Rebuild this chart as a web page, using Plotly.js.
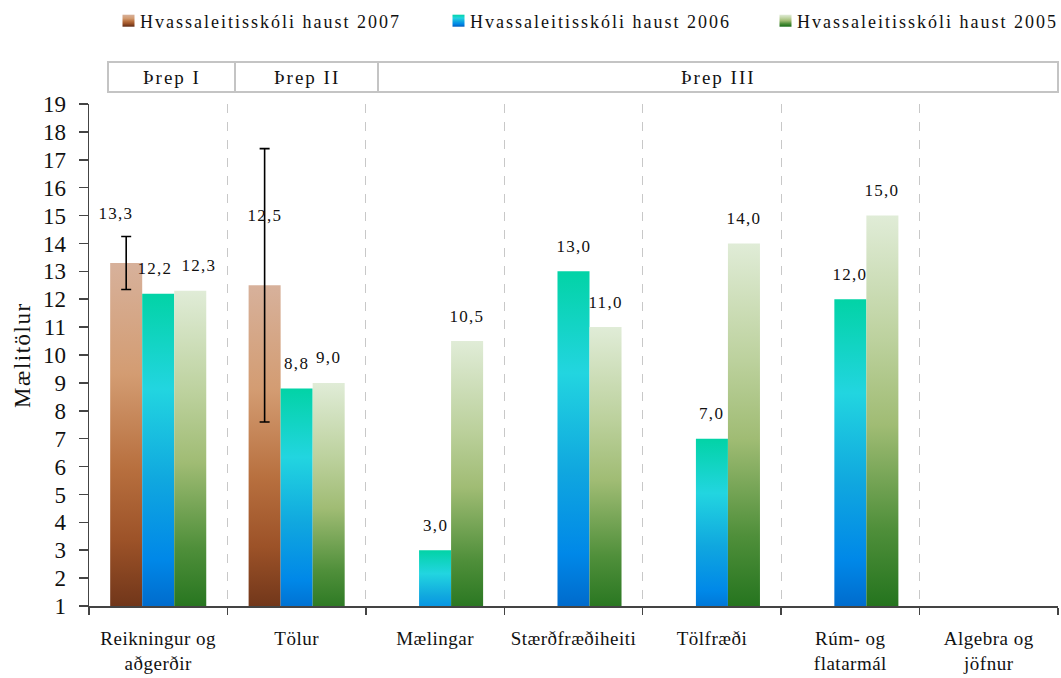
<!DOCTYPE html>
<html>
<head>
<meta charset="utf-8">
<script src="https://cdn.plot.ly/plotly-3.0.1.min.js"></script>
<style>
  html, body { margin: 0; padding: 0; background: #fff; }
  #chart { width: 1061px; height: 678px; }
  .legendtext { letter-spacing: 2px; }
</style>
</head>
<body>
<svg width="0" height="0" style="position:absolute">
  <defs>
    <linearGradient id="grad0" x1="0" y1="0" x2="0" y2="1">
      <stop offset="0" stop-color="#D7B19B"/>
      <stop offset="0.3" stop-color="#D39C72"/>
      <stop offset="0.55" stop-color="#B8703F"/>
      <stop offset="0.75" stop-color="#9C5228"/>
      <stop offset="1" stop-color="#5E2A14"/>
    </linearGradient>
    <linearGradient id="grad1" x1="0" y1="0" x2="0" y2="1">
      <stop offset="0" stop-color="#02D3A6"/>
      <stop offset="0.28" stop-color="#22D5E0"/>
      <stop offset="0.55" stop-color="#10A7DF"/>
      <stop offset="0.78" stop-color="#0088E8"/>
      <stop offset="1" stop-color="#005BBD"/>
    </linearGradient>
    <linearGradient id="grad2" x1="0" y1="0" x2="0" y2="1">
      <stop offset="0" stop-color="#E0ECD7"/>
      <stop offset="0.3" stop-color="#BCD19D"/>
      <stop offset="0.5" stop-color="#A0BC74"/>
      <stop offset="0.75" stop-color="#4F8F3A"/>
      <stop offset="1" stop-color="#156A14"/>
    </linearGradient>
  </defs>
</svg>
<div id="chart"></div>
<script>
// ---- data ----
var categories = [
  'Reikningur og<br>aðgerðir',
  'Tölur',
  'Mælingar',
  'Stærðfræðiheiti',
  'Tölfræði',
  'Rúm- og<br>flatarmál',
  'Algebra og<br>jöfnur'
];
var seriesNames = [
  'Hvassaleitisskóli haust 2007',
  'Hvassaleitisskóli haust 2006',
  'Hvassaleitisskóli haust 2005'
];
var values2007 = [13.3, 12.5, null, null, null, null, null];
var values2006 = [12.2, 8.8, 3.0, 13.0, 7.0, 12.0, null];
var values2005 = [12.3, 9.0, 10.5, 11.0, 14.0, 15.0, null];
var errors2007 = [0.95, 4.9, null, null, null, null, null];
var stageLabels = ['Þrep I', 'Þrep II', 'Þrep III'];
var yTickValues = [1,2,3,4,5,6,7,8,9,10,11,12,13,14,15,16,17,18,19];

// ---- styling ----
var FONT = 'Liberation Serif, Times New Roman, serif';
var fallbackColors = ['#C28458', '#14A9E0', '#8DB064'];
var bargap = 0.306;
var allSeries = [values2007, values2006, values2005];
var legendIds = ['legend', 'legend2', 'legend3'];

function fmt(v) { return v.toFixed(1).replace('.', ','); }

var traces = allSeries.map(function (vals, k) {
  var t = {
    type: 'bar',
    name: seriesNames[k],
    x: categories,
    y: vals,
    legend: legendIds[k],
    marker: { color: fallbackColors[k], line: { width: 0 } },
    hoverinfo: 'skip'
  };
  if (k === 0) {
    t.error_y = { type: 'data', array: errors2007, visible: true, color: '#000', thickness: 1.6, width: 5 };
  }
  return t;
});

// data labels (label placement nudges, in px)
var annotations = [];
var barW = (1 - bargap) / 3;
var lift2007 = [49, 70];
var labelNudgeX = { '0-0': -10, '1-0': -3, '2-0': 9 };
allSeries.forEach(function (vals, k) {
  vals.forEach(function (v, i) {
    if (v === null) return;
    annotations.push({
      x: i + (k - 1) * barW,
      y: v,
      xref: 'x', yref: 'y',
      text: fmt(v),
      showarrow: false,
      xanchor: 'center', yanchor: 'middle',
      xshift: labelNudgeX[k + '-' + i] || 0,
      yshift: k === 0 ? lift2007[i] : 25,
      font: { family: FONT, size: 17, color: '#111' }
    });
  });
});

// y title
annotations.push({
  xref: 'paper', yref: 'paper', x: -0.069, y: 0.5,
  text: 'Mælitölur', textangle: -90, showarrow: false,
  xanchor: 'center', yanchor: 'middle',
  font: { family: FONT, size: 23, color: '#111' }
});

// stage header band
var L = 89, W = 969, B = 606, H = 502;
function px(xp) { return (xp - L) / W; }
function py(yp) { return (B - yp) / H; }
var stageEdges = [108, 235, 378, 1058];
var shapes = [];
shapes.push({ type: 'rect', xref: 'paper', yref: 'paper',
  x0: px(stageEdges[0]), x1: px(stageEdges[3]), y0: py(92), y1: py(62),
  line: { color: '#c4c4c4', width: 2 }, fillcolor: 'rgba(0,0,0,0)' });
for (var s = 1; s < stageEdges.length - 1; s++) {
  shapes.push({ type: 'line', xref: 'paper', yref: 'paper',
    x0: px(stageEdges[s]), x1: px(stageEdges[s]), y0: py(92), y1: py(62),
    line: { color: '#c4c4c4', width: 2 } });
}
stageLabels.forEach(function (lab, s) {
  annotations.push({
    xref: 'paper', yref: 'paper',
    x: px((stageEdges[s] + stageEdges[s + 1]) / 2), y: py(77),
    text: lab, showarrow: false, xanchor: 'center', yanchor: 'middle',
    font: { family: FONT, size: 19, color: '#111' }
  });
});

var legendTextStarts = [140, 470, 797];
function legendCfg(k) {
  return {
    orientation: 'h', x: px(legendTextStarts[k] - 40), xanchor: 'left',
    y: py(21), yanchor: 'middle',
    font: { family: FONT, size: 18, color: '#111' },
    bgcolor: 'rgba(0,0,0,0)', borderwidth: 0
  };
}

var layout = {
  width: 1061, height: 678,
  margin: { l: 89, r: 3, t: 104, b: 72 },
  paper_bgcolor: '#fff', plot_bgcolor: '#fff',
  barmode: 'group', bargap: bargap, bargroupgap: 0,
  showlegend: true,
  legend: legendCfg(0),
  legend2: legendCfg(1),
  legend3: legendCfg(2),
  xaxis: {
    type: 'category', tickson: 'boundaries',
    showline: true, linecolor: '#444', linewidth: 1.5,
    ticks: 'outside', ticklen: 7, tickcolor: '#444', tickwidth: 1.5,
    showgrid: true, gridcolor: '#c8c8c8', griddash: 'dash', gridwidth: 1.2,
    tickfont: { family: FONT, size: 19, color: '#111' },
    ticklabelstandoff: 15,
    zeroline: false, fixedrange: true
  },
  yaxis: {
    range: [1, 19], tickmode: 'array', tickvals: yTickValues,
    ticktext: yTickValues.map(String),
    showline: true, linecolor: '#444', linewidth: 1.5,
    ticks: 'outside', ticklen: 9, tickcolor: '#444', tickwidth: 1.5,
    showgrid: false, zeroline: false, ticklabelstandoff: 8,
    tickfont: { family: FONT, size: 23, color: '#111' },
    fixedrange: true
  },
  annotations: annotations,
  shapes: shapes
};

function decorate(gd) {
  var barTraces = gd.querySelectorAll('.barlayer .trace.bars');
  barTraces.forEach(function (tr, k) {
    tr.querySelectorAll('.point path').forEach(function (p) {
      p.style.fill = 'url(#grad' + k + ')';
      p.style.fillOpacity = 1;
    });
  });
  legendIds.forEach(function (id, k) {
    gd.querySelectorAll('g.' + id + ' .legendpoints path').forEach(function (p) {
      p.style.fill = 'url(#grad' + k + ')';
      p.setAttribute('d', 'M6,6H-6V-6H6Z');
      p.setAttribute('transform', 'translate(28.5,0)');
    });
  });
  gd.querySelectorAll('text').forEach(function (t) {
    var txt = t.textContent;
    if (seriesNames.indexOf(txt) >= 0) {
      t.style.setProperty('letter-spacing', '2px', 'important');
      var el = t.parentNode;
      while (el && el !== gd) {
        if (el.removeAttribute) el.removeAttribute('clip-path');
        el = el.parentNode;
      }
    } else if (stageLabels.indexOf(txt) >= 0) {
      t.style.letterSpacing = '2px';
    } else if (txt === 'Mælitölur') {
      t.style.letterSpacing = '1.5px';
    } else if (/^\d+,\d$/.test(txt)) {
      t.style.letterSpacing = '1.3px';
    }
  });
  gd.querySelectorAll('.xtick text').forEach(function (t) {
    t.style.letterSpacing = '0.5px';
  });
}

Plotly.newPlot('chart', traces, layout, { displayModeBar: false, staticPlot: true }).then(function (gd) {
  decorate(gd);
  gd.on('plotly_afterplot', function () { decorate(gd); });
  setTimeout(function () { decorate(gd); }, 200);
});
</script>
</body>
</html>
